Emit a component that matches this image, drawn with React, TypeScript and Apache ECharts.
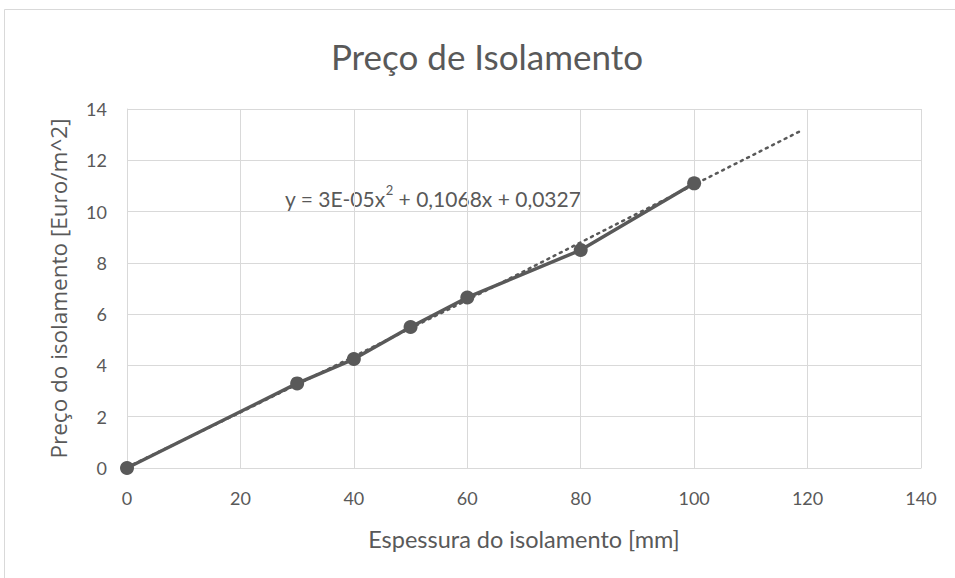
import React, { useEffect, useRef } from "react";
import * as echarts from "echarts";

const title = "Preço de Isolamento";
const xAxisTitle = "Espessura do isolamento [mm]";
const yAxisTitle = "Preço do isolamento [Euro/m^2]";
const thickness = [0, 30, 40, 50, 60, 80, 100];
const price = [0, 3.3, 4.25, 5.5, 6.65, 8.5, 11.1];
const trendX = [0, 20, 40, 60, 80, 100, 119];
const trendY = [0.03, 2.17, 4.35, 6.55, 8.8, 11.05, 13.17];
const equationMain = "y = 3E-05x";
const equationSup = "2";
const equationRest = " + 0,1068x + 0,0327";

const FONT = "Lato, 'Open Sans', sans-serif";
const TXT = "#595959";

export default function App() {
  const ref = useRef<HTMLDivElement>(null);
  useEffect(() => {
    if (!ref.current) return;
    const chart = echarts.init(ref.current, null, { renderer: "svg" });
    chart.setOption({
      animation: false,
      backgroundColor: "#fff",
      textStyle: { fontFamily: FONT },
      title: {
        text: title,
        left: 482,
        textAlign: "center",
        top: 33,
        textStyle: { fontFamily: FONT, fontSize: 35, fontWeight: "normal", color: TXT },
      },
      grid: { left: 127, right: 34, top: 109, bottom: 110 },
      xAxis: {
        type: "value",
        min: 0,
        max: 140,
        interval: 20,
        name: xAxisTitle,
        nameLocation: "middle",
        nameGap: 59,
        nameTextStyle: { fontFamily: FONT, fontSize: 23.5, color: TXT },
        axisLine: { show: true, lineStyle: { color: "#d9d9d9", width: 1 } },
        axisTick: { show: false },
        axisLabel: { fontFamily: FONT, fontSize: 18, color: TXT, margin: 21 },
        splitLine: { show: true, lineStyle: { color: "#d9d9d9", width: 1 } },
      },
      yAxis: {
        type: "value",
        min: 0,
        max: 14,
        interval: 2,
        name: yAxisTitle,
        nameLocation: "middle",
        nameGap: 57,
        nameTextStyle: { fontFamily: "'Open Sans', sans-serif", fontSize: 22.5, color: TXT },
        axisLine: { show: true, lineStyle: { color: "#d9d9d9", width: 1 } },
        axisTick: { show: false },
        axisLabel: { fontFamily: FONT, fontSize: 18, color: TXT, margin: 20 },
        splitLine: { show: true, lineStyle: { color: "#d9d9d9", width: 1 } },
      },
      graphic: [
        {
          type: "rect",
          shape: { x: 4.5, y: 9.5, width: 1000, height: 1000 },
          style: { fill: "none", stroke: "#d9d9d9", lineWidth: 1 },
          silent: true,
        },
        {
          type: "text",
          x: 285,
          y: 196,
          style: {
            text: `{m|${equationMain}}{s|${equationSup}}{m|${equationRest}}`,
            fill: TXT,
            textVerticalAlign: "middle",
            rich: {
              m: { fontFamily: FONT, fontSize: 21, color: TXT, verticalAlign: "bottom", lineHeight: 25 },
              s: { fontFamily: FONT, fontSize: 13, color: TXT, verticalAlign: "top", lineHeight: 25 },
            },
          },
        },
      ],
      series: [
        {
          type: "line",
          data: trendX.map((x, i) => [x, trendY[i]]),
          showSymbol: false,
          symbol: "none",
          lineStyle: { color: TXT, width: 2.5, type: [2, 5], cap: "round" },
          z: 2,
        },
        {
          type: "line",
          data: thickness.map((x, i) => [x, price[i]]),
          symbol: "circle",
          symbolSize: 14,
          itemStyle: { color: TXT },
          lineStyle: { color: TXT, width: 3.5 },
          z: 3,
        },
      ],
    });
    return () => chart.dispose();
  }, []);
  return <div ref={ref} style={{ width: 955, height: 578, position: "absolute", left: 0, top: 0 }} />;
}
